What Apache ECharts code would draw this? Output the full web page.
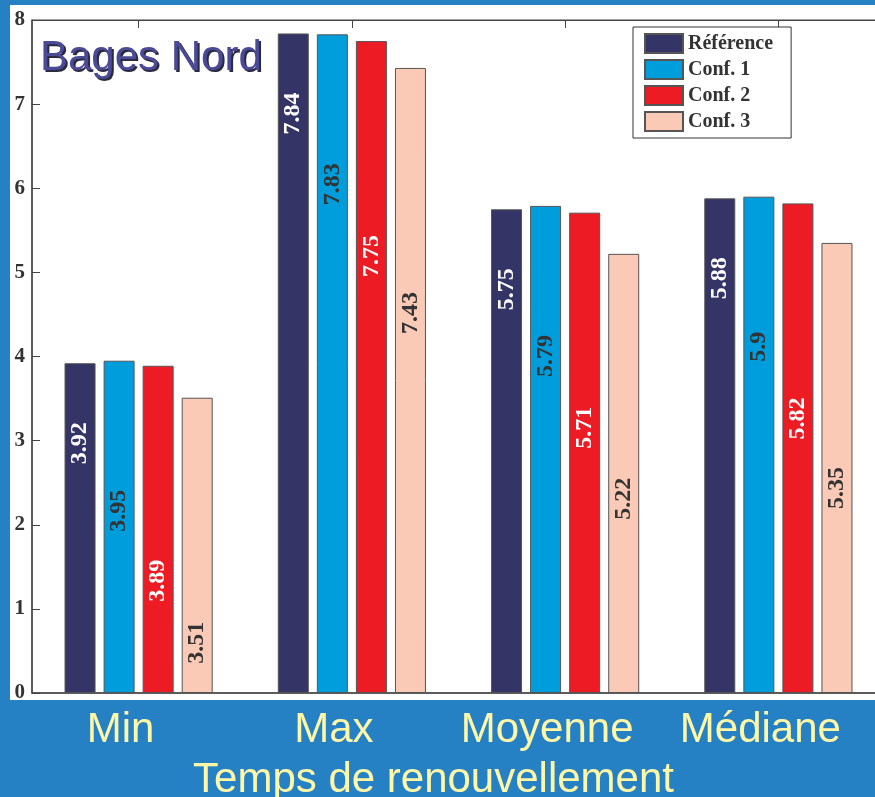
<!DOCTYPE html>
<html>
<head>
<meta charset="utf-8">
<title>Bages Nord</title>
<style>
  html, body { margin: 0; padding: 0; background: #2581c4; }
  #main { width: 875px; height: 797px; }
</style>
<script src="https://cdn.jsdelivr.net/npm/echarts@6/dist/echarts.min.js"></script>
</head>
<body>
<div id="main"></div>
<script type="text/javascript">
// catégories et valeurs
var categories = ['Min', 'Max', 'Moyenne', 'Médiane'];
var seriesNames = ['Référence', 'Conf. 1', 'Conf. 2', 'Conf. 3'];
var refValues = [3.92, 7.84, 5.75, 5.88];
var conf1Values = [3.95, 7.83, 5.79, 5.9];
var conf2Values = [3.89, 7.75, 5.71, 5.82];
var conf3Values = [3.51, 7.43, 5.22, 5.35];
var yTicks = [0, 1, 2, 3, 4, 5, 6, 7, 8];

var colors = ['#343466', '#009ddc', '#ed1c24', '#fbcab7'];
var labelColors = ['#ffffff', '#333333', '#ffffff', '#333333'];
var labelDrop = [80, 150, 215, 245]; // distance sous le haut de la barre
var serif = '"Liberation Serif", "DejaVu Serif", serif';
var sans = '"Liberation Sans", Arial, sans-serif';

function makeSeries(i, values) {
  return {
    name: seriesNames[i],
    type: 'bar',
    data: values,
    barWidth: 31,
    barGap: '26%',
    itemStyle: { color: colors[i], borderColor: '#555', borderWidth: 1 },
    label: {
      show: true,
      position: ['50%', labelDrop[i]],
      rotate: 90,
      align: 'center',
      verticalAlign: 'middle',
      color: labelColors[i],
      fontFamily: serif,
      fontWeight: 'bold',
      fontSize: 24
    }
  };
}

function titleStyle(color) {
  return { fontFamily: sans, fontWeight: 'normal', fontSize: 42, color: color };
}

var chart = echarts.init(document.getElementById('main'));

var option = {
  animation: false,
  graphic: [{
    type: 'rect',
    z: -10,
    shape: { x: 10, y: 5, width: 870, height: 695 },
    style: { fill: '#ffffff' }
  }],
  // titre avec ombre portée (copie sombre décalée dessous)
  title: [{
    text: 'Bages Nord',
    left: 42,
    top: 39,
    padding: 0,
    textStyle: titleStyle('#2a2a40')
  }, {
    text: 'Bages Nord',
    left: 40,
    top: 37,
    padding: 0,
    textStyle: titleStyle('#4b4a97')
  }],
  legend: {
    data: seriesNames,
    orient: 'vertical',
    left: 633,
    top: 27,
    itemWidth: 38,
    itemHeight: 19,
    itemGap: 5,
    itemTextGap: 12,
    icon: 'rect',
    backgroundColor: '#ffffff',
    borderColor: '#333',
    borderWidth: 1,
    padding: [6, 18, 6, 11],
    textStyle: { fontFamily: serif, fontWeight: 'bold', fontSize: 20, color: '#333' }
  },
  grid: {
    left: 32,
    top: 20,
    right: -10,
    bottom: 104,
    containLabel: false,
    outerBoundsMode: 'none',
    show: true,
    backgroundColor: '#ffffff',
    borderColor: '#444',
    borderWidth: 1
  },
  xAxis: [{
    type: 'category',
    data: categories,
    name: 'Temps de renouvellement',
    nameLocation: 'middle',
    nameGap: 66,
    nameTextStyle: { fontFamily: sans, fontSize: 42, color: '#fff7a8', padding: [0, 50, 0, 0] },
    axisLine: { lineStyle: { color: '#444', width: 1.5 } },
    axisTick: { inside: true, alignWithLabel: true, length: 8, lineStyle: { color: '#444' } },
    axisLabel: {
      interval: 0,
      hideOverlap: false,
      fontFamily: sans,
      fontSize: 42,
      color: '#fff7a8',
      margin: 16,
      padding: [0, 36, 0, 0]
    }
  }, {
    type: 'category',
    data: categories,
    position: 'top',
    axisLine: { lineStyle: { color: '#444' } },
    axisTick: { show: true, inside: true, alignWithLabel: true, length: 8, lineStyle: { color: '#444' } },
    axisLabel: { show: false }
  }],
  yAxis: {
    type: 'value',
    min: yTicks[0],
    max: yTicks[yTicks.length - 1],
    interval: 1,
    splitLine: { show: false },
    axisLine: { show: true, lineStyle: { color: '#444', width: 1.5 } },
    axisTick: { show: true, inside: true, length: 8, lineStyle: { color: '#444' } },
    axisLabel: { fontFamily: serif, fontWeight: 'bold', fontSize: 21, color: '#333', margin: 7 }
  },
  series: [
    makeSeries(0, refValues),
    makeSeries(1, conf1Values),
    makeSeries(2, conf2Values),
    makeSeries(3, conf3Values)
  ]
};

chart.setOption(option);
</script>
</body>
</html>
